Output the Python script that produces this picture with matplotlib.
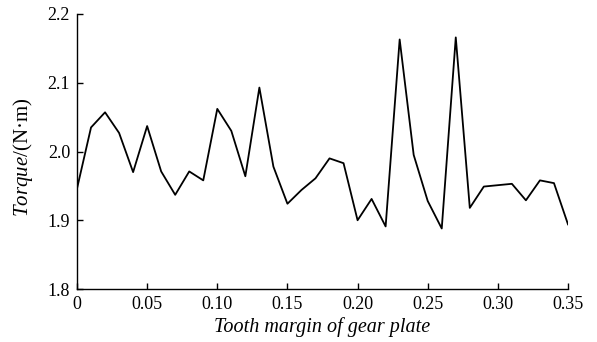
import matplotlib
matplotlib.use("Agg")
import matplotlib.pyplot as plt
import numpy as np

# Datos
margin = np.round(np.arange(0, 0.351, 0.01), 2)
torque = [1.946, 2.035, 2.057, 2.027, 1.970, 2.037, 1.971, 1.937, 1.971, 1.958,
          2.062, 2.030, 1.964, 2.093, 1.978, 1.924, 1.944, 1.961, 1.990, 1.983,
          1.900, 1.931, 1.891, 2.163, 1.995, 1.928, 1.888, 2.166, 1.918, 1.949,
          1.951, 1.953, 1.929, 1.958, 1.954, 1.894]

x_ticks = [0, 0.05, 0.10, 0.15, 0.20, 0.25, 0.30, 0.35]
x_labels = ["0", "0.05", "0.10", "0.15", "0.20", "0.25", "0.30", "0.35"]
y_ticks = [1.8, 1.9, 2.0, 2.1, 2.2]
y_labels = ["1.8", "1.9", "2.0", "2.1", "2.2"]

plt.rcParams["font.family"] = ["Liberation Serif", "DejaVu Serif"]
plt.rcParams["mathtext.fontset"] = "custom"
plt.rcParams["mathtext.it"] = "Liberation Serif:italic"
plt.rcParams["mathtext.rm"] = "Liberation Serif"

fig = plt.figure(figsize=(5.97, 3.42), dpi=100)
ax = fig.add_axes([77 / 597, 1 - 289 / 342, (568 - 77) / 597, (289 - 14) / 342])

ax.plot(margin, torque, color="black", linewidth=1.3)

ax.set_xlim(0, 0.35)
ax.set_ylim(1.8, 2.2)
ax.set_xticks(x_ticks)
ax.set_xticklabels(x_labels)
ax.set_yticks(y_ticks)
ax.set_yticklabels(y_labels)
ax.tick_params(direction="in", length=4, width=1, labelsize=13, pad=5)

for side in ("top", "right"):
    ax.spines[side].set_visible(False)
for side in ("left", "bottom"):
    ax.spines[side].set_linewidth(1)

ax.set_xlabel("Tooth margin of gear plate", fontsize=14.5, style="italic", labelpad=3)
ax.set_ylabel(r"$\mathit{Torque}$/(N·m)", fontsize=15, labelpad=5)
ax.yaxis.set_label_coords(-0.085, 0.48)

fig.savefig("out.png", dpi=100)
